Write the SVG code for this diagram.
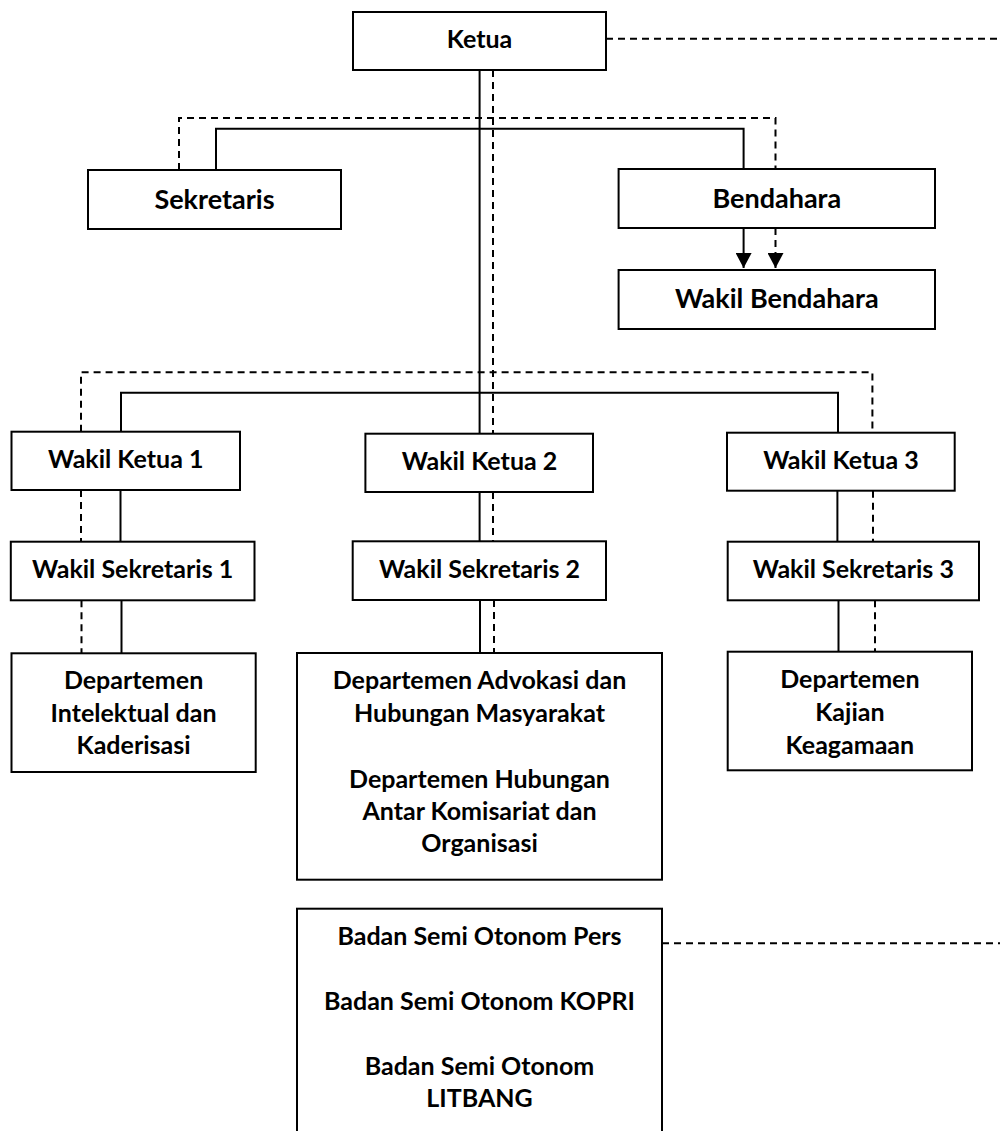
<svg xmlns="http://www.w3.org/2000/svg" width="1000" height="1131" viewBox="0 0 1000 1131">
<style>
.box{fill:#fff;stroke:#000;stroke-width:2}
.t{font-family:Lato,"Liberation Sans",sans-serif;font-weight:bold;font-size:25px;fill:#000;text-anchor:middle}
.tl{font-size:27px}
.s{fill:none;stroke:#000;stroke-width:2}
.d{fill:none;stroke:#000;stroke-width:2;stroke-dasharray:7 5}
</style>
<defs>
<marker id="arr" markerUnits="userSpaceOnUse" markerWidth="16" markerHeight="16" viewBox="0 0 15 16" refX="15" refY="8" orient="auto">
<path d="M0 0 L15 8 L0 16 Z" fill="#000"/>
</marker>
</defs>
<rect width="1000" height="1131" fill="#fff"/>
<g id="connectors">
<path class="s" d="M479.6 70 V433.7"/>
<path class="s" d="M216 170 V128.7 H743.6 V169"/>
<path class="s" d="M121 431.7 V392.7 H838 V432.7"/>
<path class="s" d="M120.5 490 V541.7"/>
<path class="s" d="M479.6 492 V541.3"/>
<path class="s" d="M837.4 490.7 V541.7"/>
<path class="s" d="M121.5 600.3 V653.3"/>
<path class="s" d="M480 600 V653"/>
<path class="s" d="M838.5 600.3 V651.7"/>
<path class="s" d="M743.6 228 V268" marker-end="url(#arr)"/>
<path class="d" d="M606 38.7 H1000"/>
<path class="d" d="M493 70 V433.7"/>
<path class="d" d="M179 170 V118 H775.5 V169"/>
<path class="d" d="M81 431.7 V372.3 H872.4 V432.7"/>
<path class="d" d="M81 490 V541.7"/>
<path class="d" d="M493 492 V541.3"/>
<path class="d" d="M873 490.7 V541.7"/>
<path class="d" d="M81.5 600.3 V653.3"/>
<path class="d" d="M494 600 V653"/>
<path class="d" d="M875 600.3 V651.7"/>
<path class="d" d="M775.5 228 V268" marker-end="url(#arr)"/>
<path class="d" d="M662 943.3 H1000"/>
</g>
<g id="ketua"><rect class="box" x="353" y="12" width="253" height="58"/><text class="t" x="479.5" y="48.3">Ketua</text></g>
<g id="sekretaris"><rect class="box" x="88" y="170" width="253" height="59"/><text class="t tl" x="214.5" y="209">Sekretaris</text></g>
<g id="bendahara"><rect class="box" x="618.6" y="169" width="316.4" height="59"/><text class="t tl" x="776.8" y="208.3">Bendahara</text></g>
<g id="wakil-bendahara"><rect class="box" x="618.6" y="270" width="316.4" height="59"/><text class="t tl" x="776.8" y="308.3">Wakil Bendahara</text></g>
<g id="wakil-ketua-1"><rect class="box" x="11.5" y="431.7" width="228.5" height="58.3"/><text class="t" x="125.7" y="468.3">Wakil Ketua 1</text></g>
<g id="wakil-ketua-2"><rect class="box" x="365.4" y="433.7" width="227.6" height="58.3"/><text class="t" x="479.5" y="470">Wakil Ketua 2</text></g>
<g id="wakil-ketua-3"><rect class="box" x="727" y="432.7" width="227.7" height="58"/><text class="t" x="840.9" y="469.3">Wakil Ketua 3</text></g>
<g id="wakil-sekretaris-1"><rect class="box" x="10.8" y="541.7" width="243.7" height="58.6"/><text class="t" x="132.6" y="578.3">Wakil Sekretaris 1</text></g>
<g id="wakil-sekretaris-2"><rect class="box" x="352.7" y="541.3" width="253.3" height="58.7"/><text class="t" x="479.5" y="578.3">Wakil Sekretaris 2</text></g>
<g id="wakil-sekretaris-3"><rect class="box" x="727.7" y="541.7" width="251.3" height="58.6"/><text class="t" x="853.3" y="578.3">Wakil Sekretaris 3</text></g>
<g id="departemen-1"><rect class="box" x="11.5" y="653.3" width="244.2" height="118.7"/>
<text class="t" x="133.6" y="689.3">Departemen</text>
<text class="t" x="133.6" y="721.5">Intelektual dan</text>
<text class="t" x="133.6" y="754">Kaderisasi</text></g>
<g id="departemen-2"><rect class="box" x="297" y="653" width="365" height="226.7"/>
<text class="t" x="479.5" y="689.4">Departemen Advokasi dan</text>
<text class="t" x="479.5" y="721.7">Hubungan Masyarakat</text>
<text class="t" x="479.5" y="787.7">Departemen Hubungan</text>
<text class="t" x="479.5" y="819.6">Antar Komisariat dan</text>
<text class="t" x="479.5" y="851.8">Organisasi</text></g>
<g id="departemen-3"><rect class="box" x="727.7" y="651.7" width="244.3" height="118.6"/>
<text class="t" x="849.9" y="688.4">Departemen</text>
<text class="t" x="849.9" y="720.6">Kajian</text>
<text class="t" x="849.9" y="753.7">Keagamaan</text></g>
<g id="badan-semi-otonom"><rect class="box" x="297" y="908.7" width="365" height="240"/>
<text class="t" x="479.5" y="945">Badan Semi Otonom Pers</text>
<text class="t" x="479.5" y="1010">Badan Semi Otonom KOPRI</text>
<text class="t" x="479.5" y="1075">Badan Semi Otonom</text>
<text class="t" x="479.5" y="1107">LITBANG</text></g>
</svg>
